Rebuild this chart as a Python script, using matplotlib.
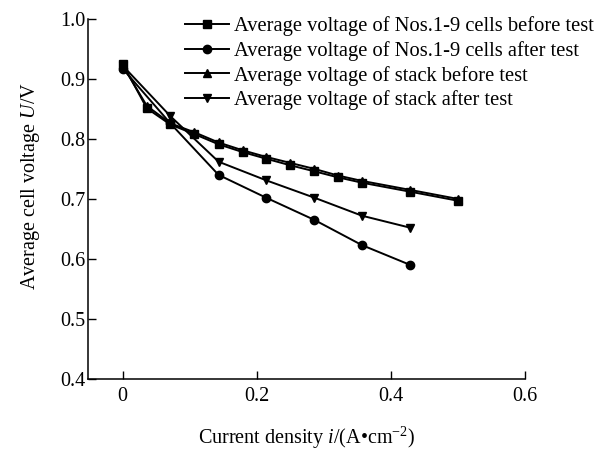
import matplotlib
matplotlib.use("Agg")
import matplotlib.pyplot as plt

plt.rcParams['font.family'] = ['Liberation Serif', 'DejaVu Serif']
plt.rcParams['mathtext.fontset'] = 'custom'
plt.rcParams['mathtext.rm'] = 'Liberation Serif'
plt.rcParams['mathtext.it'] = 'Liberation Serif:italic'

# current density steps (A/cm2)
x_full = [0, 0.036, 0.071, 0.107, 0.143, 0.179, 0.214, 0.25, 0.286, 0.321, 0.357, 0.429, 0.5]
x_half = [0, 0.071, 0.143, 0.214, 0.286, 0.357, 0.429]

cells_before = [0.925, 0.851, 0.824, 0.808, 0.791, 0.778, 0.767, 0.756, 0.746, 0.736, 0.727, 0.712, 0.697]
cells_after = [0.917, 0.826, 0.740, 0.702, 0.665, 0.623, 0.590]
stack_before = [0.922, 0.855, 0.826, 0.811, 0.794, 0.781, 0.770, 0.760, 0.750, 0.739, 0.730, 0.715, 0.700]
stack_after = [0.922, 0.838, 0.762, 0.731, 0.702, 0.672, 0.652]

labels = ['Average voltage of Nos.1-9 cells before test',
          'Average voltage of Nos.1-9 cells after test',
          'Average voltage of stack before test',
          'Average voltage of stack after test']

fig = plt.figure(figsize=(6.06, 4.49), dpi=100)
ax = fig.add_axes([0.145, 0.156, 0.721, 0.802])

kw = dict(color='black', lw=1.4, ms=6)
ax.plot(x_full, cells_before, marker='s', label=labels[0], **kw)
ax.plot(x_half, cells_after, marker='o', label=labels[1], **kw)
ax.plot(x_full, stack_before, marker='^', label=labels[2], **kw)
ax.plot(x_half, stack_after, marker='v', label=labels[3], **kw)

ax.set_xlim(-0.052, 0.6)
ax.set_ylim(0.4, 1.0)
ax.set_xticks([0, 0.2, 0.4, 0.6])
ax.set_xticklabels(['0', '0.2', '0.4', '0.6'])
ax.set_yticks([0.4, 0.5, 0.6, 0.7, 0.8, 0.9, 1.0])
ax.set_yticklabels(['0.4', '0.5', '0.6', '0.7', '0.8', '0.9', '1.0'])
ax.tick_params(direction='in', length=6, width=1, labelsize=14.5, colors='black')
ax.tick_params(axis='x', pad=6)
ax.tick_params(axis='y', pad=2)
for s in ['top', 'right']:
    ax.spines[s].set_visible(False)
for s in ['left', 'bottom']:
    ax.spines[s].set_linewidth(1.1)

ax.set_xlabel(r'Current density $i$/(A•cm$^{-2}$)', fontsize=14.5, labelpad=13)
ax.set_ylabel(r'Average cell voltage $U$/V', fontsize=14.5)
ax.yaxis.set_label_coords(-0.105, 0.535)

ax.legend(loc='upper left', bbox_to_anchor=(0.222, 1.008), frameon=False,
          fontsize=14.8, handlelength=2.15, handletextpad=0.25, labelspacing=0.24,
          borderpad=0, borderaxespad=0)

fig.savefig('out.png', dpi=100)
